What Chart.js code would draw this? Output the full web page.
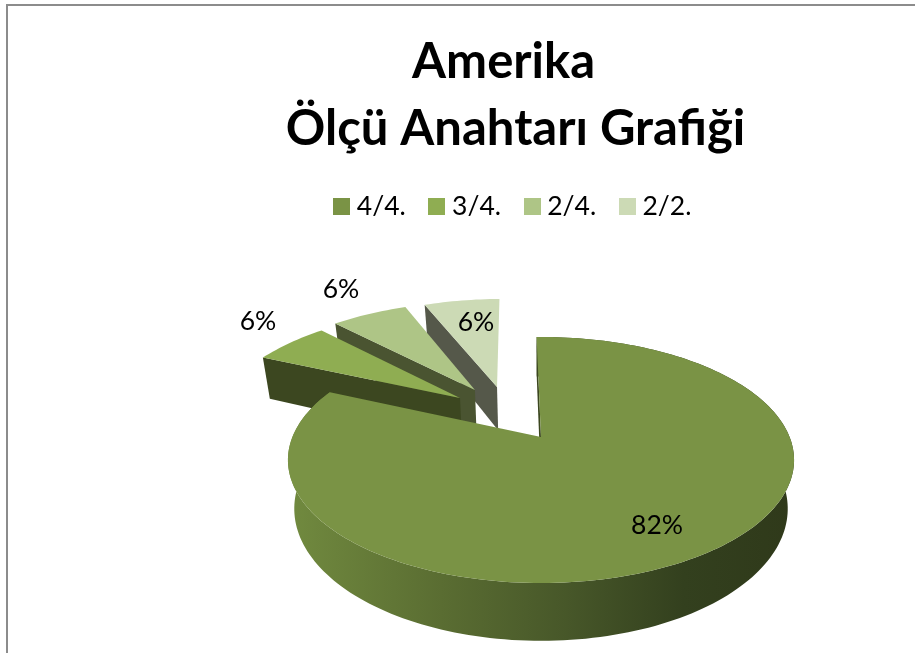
<!DOCTYPE html>
<html>
<head>
<meta charset="utf-8">
<title>Amerika Ölçü Anahtarı Grafiği</title>
<script src="https://cdn.jsdelivr.net/npm/chart.js@4"></script>
<style>
    html, body { margin: 0; padding: 0; background: #fff; overflow: hidden; }
    #wrap { position: relative; width: 915px; height: 653px; }
</style>
</head>
<body>
<div id="wrap"><canvas id="chart" width="915" height="653"></canvas></div>
<script>
const titleLines = ['Amerika  ', 'Ölçü Anahtarı Grafiği'];
const categories = ['4/4.', '3/4.', '2/4.', '2/2.'];
const shares = [82, 6, 6, 6];
const topColors = ['#7a9345', '#8fad52', '#aec586', '#ccdab5'];
const sideColors = ['#3c4720', '#3c4720', '#4a5431', '#55584a'];

// how far each slice is pulled out, in pie radii
const pullOut = [[0, 0], [-0.347, -0.35], [-0.287, -0.428], [-0.192, -0.457]];
const sliceRadius = [1, 1.02, 1.03, 1.03];
const labelSpots = [[657, 525], [258, 321], [341, 289], [476, 322]];

// perspective used for the tilted pie
const view = { x: 541, y: 437, rx: 248.6, ry: 118.7, tilt: 0.187, depth: 47, bottomShrink: 0.975 };

function project(u, v, lower) {
    const w = 1 - view.tilt * v;
    const shrink = lower ? view.bottomShrink : 1;
    return {
        x: view.x + shrink * view.rx * u / w,
        y: view.y + view.ry * v / w + (lower ? view.depth / w : 0)
    };
}

function rimPoint(i, angle, lower) {
    const r = sliceRadius[i];
    const u = pullOut[i][0] + r * Math.cos(angle);
    const v = pullOut[i][1] + r * Math.sin(angle);
    return project(u, v, lower);
}

function centerPoint(i, lower) {
    return project(pullOut[i][0], pullOut[i][1], lower);
}

function fillPath(ctx, points, fill) {
    ctx.beginPath();
    points.forEach((p, n) => (n === 0 ? ctx.moveTo(p.x, p.y) : ctx.lineTo(p.x, p.y)));
    ctx.closePath();
    ctx.fillStyle = fill;
    ctx.fill();
}

function arcSamples(i, start, end, lower) {
    const steps = Math.max(8, Math.ceil((end - start) * 40));
    const out = [];
    for (let n = 0; n <= steps; n++) {
        out.push(rimPoint(i, start + (end - start) * n / steps, lower));
    }
    return out;
}

function drawSlice(ctx, arc, i) {
    const start = arc.startAngle;
    const end = arc.endAngle;
    const top = arcSamples(i, start, end, false);

    // only the big slice shows its rim, the others face away
    if (i === 0) {
        const rimFill = ctx.createLinearGradient(289, 0, 795, 0);
        rimFill.addColorStop(0, '#718a3f');
        rimFill.addColorStop(0.3, '#5a6d32');
        rimFill.addColorStop(0.55, '#475729');
        rimFill.addColorStop(0.78, '#33401e');
        rimFill.addColorStop(1, '#2f391a');
        const bottom = arcSamples(i, start, end, true);
        fillPath(ctx, top.concat(bottom.reverse()), rimFill);
    }

    // cut wall on the leading edge
    fillPath(ctx, [
        rimPoint(i, start, false), centerPoint(i, false),
        centerPoint(i, true), rimPoint(i, start, true)
    ], sideColors[i]);

    // top face
    fillPath(ctx, [centerPoint(i, false)].concat(top), topColors[i]);
}

// legend swatch as an image, so the text can sit closer than the default gap
function makeSwatch(color) {
    const c = document.createElement('canvas');
    c.width = 17;
    c.height = 17;
    const g = c.getContext('2d');
    g.fillStyle = color;
    g.fillRect(0, 0, 17, 17);
    return c;
}

const tiltedPie = {
    id: 'tiltedPie',
    beforeDraw(chart) {
        const ctx = chart.ctx;
        ctx.save();
        ctx.fillStyle = '#8c8c8c';
        ctx.fillRect(6, 4, 909, 2);
        ctx.fillRect(6, 4, 2, 649);
        ctx.restore();
    },
    beforeDatasetsDraw(chart) {
        const ctx = chart.ctx;
        const arcs = chart.getDatasetMeta(0).data;
        // back slices first so the nearer ones cover them
        [3, 2, 1, 0].forEach(i => drawSlice(ctx, arcs[i], i));

        ctx.save();
        ctx.fillStyle = '#000';
        ctx.font = '26.5px Lato';
        ctx.textAlign = 'center';
        ctx.textBaseline = 'middle';
        shares.forEach((share, i) => {
            ctx.fillText(share + '%', labelSpots[i][0], labelSpots[i][1]);
        });
        ctx.restore();
        return false;
    }
};

new Chart(document.getElementById('chart').getContext('2d'), {
    type: 'pie',
    plugins: [tiltedPie],
    data: {
        labels: categories,
        datasets: [{
            data: shares,
            backgroundColor: topColors,
            borderWidth: 0
        }]
    },
    options: {
        responsive: false,
        animation: false,
        rotation: -1.2,
        layout: { padding: { left: 116, top: 29 } },
        plugins: {
            title: {
                display: true,
                text: titleLines,
                color: '#000',
                font: { family: 'Lato', size: 49, weight: 'bold', lineHeight: 1.37 },
                padding: { top: 0, bottom: 1 }
            },
            legend: {
                position: 'top',
                labels: {
                    color: '#000',
                    font: { family: 'Lato', size: 26.5 },
                    boxHeight: 17,
                    usePointStyle: true,
                    pointStyleWidth: 4,
                    padding: 29,
                    generateLabels: () => categories.map((text, i) => ({
                        text,
                        index: i,
                        fillStyle: topColors[i],
                        strokeStyle: topColors[i],
                        lineWidth: 0,
                        hidden: false,
                        pointStyle: makeSwatch(topColors[i])
                    }))
                }
            },
            tooltip: { enabled: false }
        }
    }
});
</script>
</body>
</html>
